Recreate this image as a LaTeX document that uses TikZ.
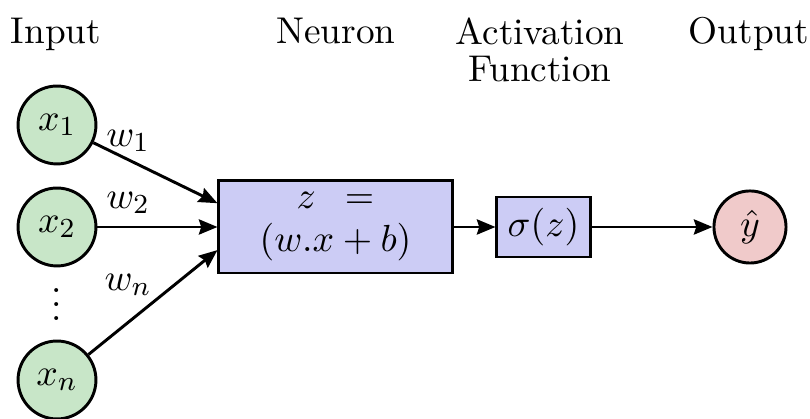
\documentclass[tikz,border=0pt]{standalone}
\usetikzlibrary{arrows.meta}
\definecolor{ingreen}{RGB}{200,230,200}
\definecolor{boxblue}{RGB}{204,204,245}
\definecolor{outpink}{RGB}{240,202,202}
\begin{document}
\begin{tikzpicture}[x=0.29pt,y=-0.29pt,
  every node/.style={font=\fontsize{10.8pt}{13pt}\selectfont},
  innode/.style={circle,draw,line width=0.85pt,fill=ingreen,minimum size=22.6pt,inner sep=0pt},
  outnode/.style={circle,draw,line width=0.85pt,fill=outpink,minimum size=20.9pt,inner sep=0pt},
  nbox/.style={draw,line width=0.85pt,fill=boxblue,inner sep=0pt},
  arr/.style={-{Stealth[length=5.4pt,width=4.4pt,inset=0.7pt]},line width=0.85pt},
  hdr/.style={anchor=north,inner sep=0pt},
  wlabel/.style={inner sep=0pt}]
\useasboundingbox (0,0) rectangle (810,419);
% headers
\node[hdr] (hin) at (56,17) {Input};
\node[hdr] (hneu) at (336,17) {Neuron};
\node[hdr,align=center] (hact) at (540,17) {Activation\\[-2.2pt]Function};
\node[hdr] (hout) at (749,17) {Output};
% inputs
\node[innode] (x1) at (57,125) {$x_1$};
\node[innode] (x2) at (57,227) {$x_2$};
\node[innode] (xn) at (57,380) {$x_n$};
\node[inner sep=0pt] (dots) at (57,294) {$\vdots$};
% neuron and activation
\node[nbox,minimum width=67.6pt,minimum height=26.7pt,align=center] (neuron) at (335.5,227) {$z\enspace=$\\[-0.5pt]$(w.x+b)$};
\node[nbox,minimum width=27pt,minimum height=17.4pt] (act) at (543.5,227) {$\sigma(z)$};
\node[outnode] (yhat) at (750,227) {$\hat{y}$};
% connectors
\coordinate (t1) at ([yshift=6.9pt]neuron.west);
\coordinate (tn) at ([yshift=-6.7pt]neuron.west);
\draw[arr] (x1) -- (t1);
\draw[arr] (x2) -- (neuron);
\draw[arr] (xn) -- (tn);
\draw[arr] (neuron) -- (act);
\draw[arr] (act) -- (yhat);
% weights
\node[wlabel] (w1) at (128,141) {$w_1$};
\node[wlabel] (w2) at (128,203) {$w_2$};
\node[wlabel] (wn) at (128,285) {$w_n$};
\end{tikzpicture}
\end{document}
